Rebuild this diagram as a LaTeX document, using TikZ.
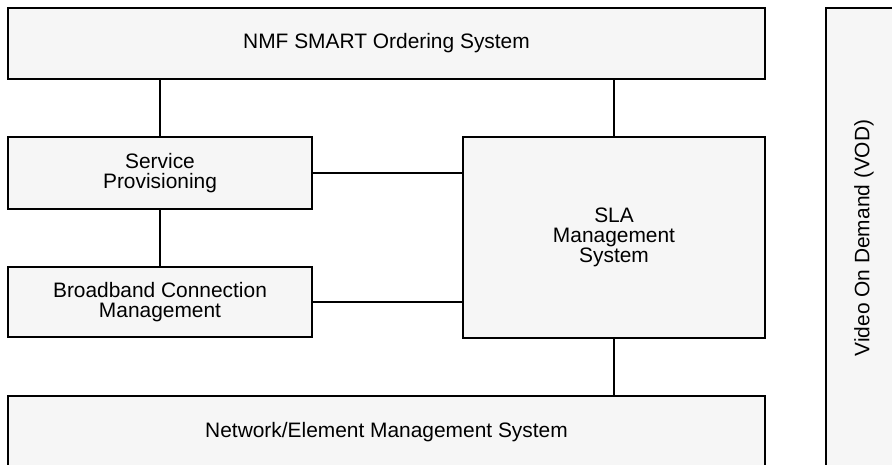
\documentclass[tikz,border=0pt]{standalone}
\usepackage{fontspec}
\setmainfont{Liberation Sans}
\usepackage{tikz}
\definecolor{boxgray}{RGB}{246,246,246}

\begin{document}
\begin{tikzpicture}[x=0.02cm, y=-0.02cm,
	sysbox/.style={draw=black, fill=boxgray, line width=0.75pt, inner sep=0pt, align=center},
	link/.style={draw=black, line width=0.65pt},
	every node/.style={font=\fontsize{11.9}{11.4}\selectfont}]
	\useasboundingbox (0,0) rectangle (892,465);
	\clip (0,0) rectangle (892,465);
	\node[sysbox, minimum width=15.14cm, minimum height=1.42cm] (nmf) at (386.5,43.5) {NMF SMART Ordering System};
	\node[sysbox, minimum width=6.08cm, minimum height=1.44cm] (prov) at (160,173) {Service\\Provisioning};
	\node[sysbox, minimum width=6.08cm, minimum height=1.40cm] (bcm) at (160,302) {Broadband Connection\\Management};
	\node[sysbox, minimum width=6.04cm, minimum height=4.02cm] (sla) at (614,237.5) {SLA\\Management\\System};
	\node[sysbox, minimum width=15.14cm, minimum height=1.44cm] (nems) at (386.5,432) {Network/Element Management System};
	\node[sysbox, rotate=90, minimum width=9.2cm, minimum height=1.52cm] (vod) at (864,238) {Video On Demand (VOD)};
	\draw[link] (prov.north) -- (prov.north |- nmf.south);
	\draw[link] (sla.north) -- (sla.north |- nmf.south);
	\draw[link] (prov.south) -- (bcm.north);
	\draw[link] (prov.east) -- (prov.east -| sla.west);
	\draw[link] (bcm.east) -- (bcm.east -| sla.west);
	\draw[link] (sla.south) -- (sla.south |- nems.north);
\end{tikzpicture}
\end{document}
